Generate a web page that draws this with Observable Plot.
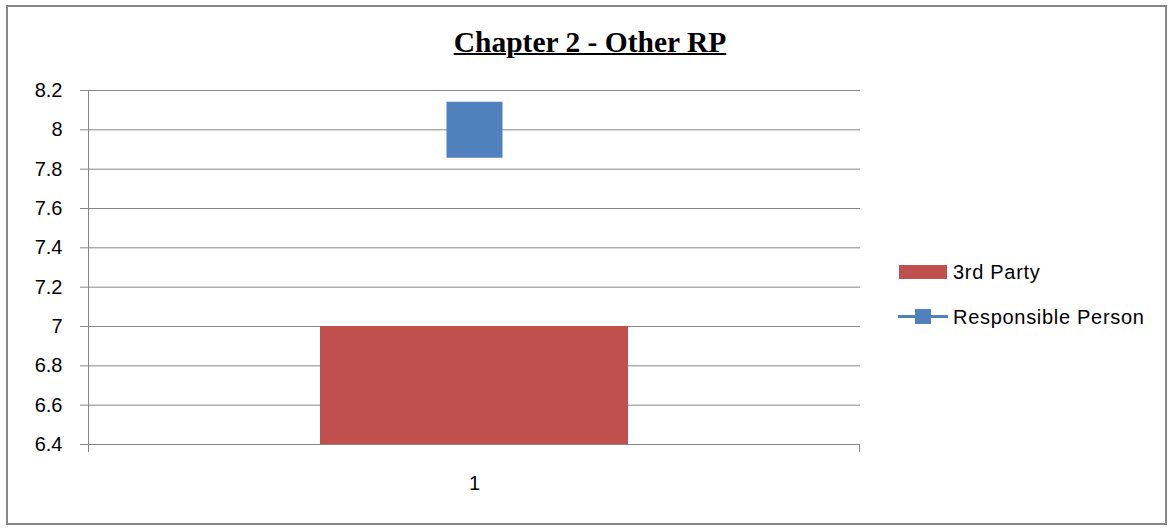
<!DOCTYPE html>
<html>
<head>
<meta charset="utf-8">
<script src="https://cdn.jsdelivr.net/npm/d3@7"></script>
<script src="https://cdn.jsdelivr.net/npm/@observablehq/plot@0.6"></script>
<style>
  html, body { margin: 0; padding: 0; background: #fff; }
  #wrap { position: relative; width: 1171px; height: 528px; overflow: hidden; font-family: "Liberation Sans", Arial, sans-serif; }
  #wrap svg { position: absolute; left: 0; top: 0; }
  #border { position: absolute; left: 6px; top: 5px; width: 1157px; height: 516px; border: 2px solid #878787; pointer-events: none; }
  #title { position: absolute; left: 390px; top: 28px; width: 400px; text-align: center; font-family: "Liberation Serif", "Times New Roman", serif; font-weight: bold; font-size: 29.5px; line-height: 29px; text-decoration: underline; text-decoration-thickness: 2px; color: #000; }
  .leg { position: absolute; font-size: 20px; line-height: 20px; letter-spacing: 0.7px; color: #000; white-space: nowrap; }
</style>
</head>
<body>
<div id="wrap">
  <div id="border"></div>
  <div id="title"></div>
  <div id="legend"></div>
</div>
<script>
// ---- data ----
const titleText = "Chapter 2 - Other RP";
const categories = ["1"];
const thirdParty = [7];
const responsiblePerson = [8];
const seriesNames = ["3rd Party", "Responsible Person"];
const seriesColors = ["#C0504D", "#4F81BD"];
const yTicks = [6.4, 6.6, 6.8, 7.0, 7.2, 7.4, 7.6, 7.8, 8.0, 8.2];
const yTickLabels = ["6.4", "6.6", "6.8", "7", "7.2", "7.4", "7.6", "7.8", "8", "8.2"];

const rows = categories.map((c, i) => ({cat: c, third: thirdParty[i], rp: responsiblePerson[i]}));
const yBase = yTicks[0];
const gray = "#868686";

document.getElementById("title").textContent = titleText;

// frame lines: y-axis line and category boundary ticks
function axisLines(index, scales, values, dims) {
  const g = d3.create("svg:g").attr("stroke", gray).attr("stroke-width", 1);
  const x0 = dims.marginLeft, x1 = dims.width - dims.marginRight;
  const yT = dims.marginTop, yB = dims.height - dims.marginBottom;
  g.append("line").attr("x1", x0 + 0.5).attr("x2", x0 + 0.5).attr("y1", yT).attr("y2", yB + 8);
  g.append("line").attr("x1", x1 - 0.5).attr("x2", x1 - 0.5).attr("y1", yB).attr("y2", yB + 8);
  return g.node();
}

const chart = Plot.plot({
  width: 1171,
  height: 528,
  marginLeft: 88,
  marginRight: 311,
  marginTop: 90,
  marginBottom: 84,
  style: {fontFamily: "'Liberation Sans', Arial, sans-serif", fontSize: "20px", background: "transparent", overflow: "visible"},
  x: {domain: categories, padding: 0.4296, axis: null},
  y: {domain: [yTicks[0], yTicks[yTicks.length - 1]], axis: null},
  marks: [
    Plot.gridY(yTicks, {stroke: gray, strokeOpacity: 1, strokeWidth: 1}),
    Plot.barY(rows, {x: "cat", y1: yBase, y2: "third", fill: seriesColors[0]}),
    Plot.dot(rows, {x: "cat", y: "rp", symbol: "square", r: 31.6, fill: seriesColors[1], stroke: null}),
    Plot.axisY({ticks: yTicks, tickSize: 8, tickPadding: 18, stroke: gray, strokeOpacity: 1, fill: "#000", fontSize: 20,
      tickFormat: d => yTickLabels[yTicks.findIndex(t => Math.abs(t - d) < 1e-9)], label: null}),
    Plot.axisX({tickSize: 0, tickPadding: 31, fill: "#000", fontSize: 20, label: null}),
    axisLines
  ]
});
document.getElementById("wrap").insertBefore(chart, document.getElementById("border"));

// legend
const legend = document.getElementById("legend");
function add(el, css) { Object.assign(el.style, css); legend.appendChild(el); return el; }
// 3rd Party
add(document.createElement("div"), {position: "absolute", left: "899px", top: "265px", width: "48px", height: "14px", background: seriesColors[0]});
const t1 = add(document.createElement("div"), {left: "953px", top: "262px"}); t1.className = "leg"; t1.textContent = seriesNames[0];
// Responsible Person
add(document.createElement("div"), {position: "absolute", left: "898px", top: "315px", width: "50px", height: "3px", background: seriesColors[1]});
add(document.createElement("div"), {position: "absolute", left: "915px", top: "309px", width: "16px", height: "15px", background: seriesColors[1]});
const t2 = add(document.createElement("div"), {left: "953px", top: "307px"}); t2.className = "leg"; t2.textContent = seriesNames[1];
</script>
</body>
</html>
